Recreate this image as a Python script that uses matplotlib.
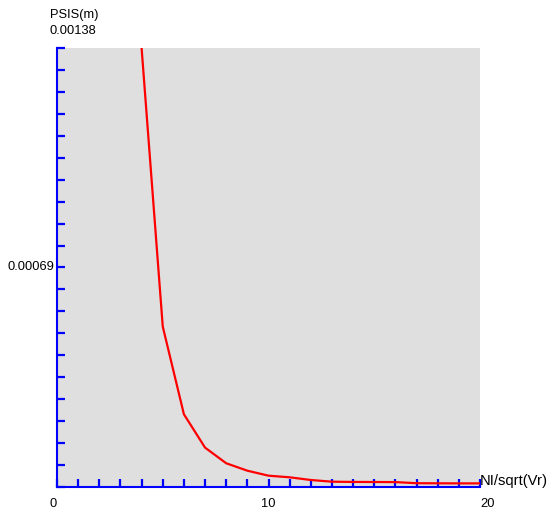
import numpy as np
import matplotlib.pyplot as plt
from matplotlib.ticker import MultipleLocator, NullFormatter

# PSIS versus NI/sqrt(Vr)
ni_sqrt_vr = [4, 5, 6, 7, 8, 9, 10, 11, 12, 13, 14, 15, 16, 17, 18, 19, 20]
psis = [0.00138, 0.000504, 0.000228, 0.000123, 0.0000738, 0.0000504, 0.0000347,
        0.0000296, 0.0000211, 0.0000158, 0.0000150, 0.0000148, 0.0000145,
        0.0000110, 0.0000107, 0.0000105, 0.0000105]

x_max = 20
y_max = 0.00138
x_labels = [0, 10, 20]

plt.rcParams['font.family'] = ['Liberation Sans', 'DejaVu Sans']

fig = plt.figure(figsize=(5.53, 5.12), dpi=100)
ax = fig.add_axes([0.1031, 0.0494, 0.7649, 0.8563])
ax.set_facecolor('#dfdfdf')

ax.plot(ni_sqrt_vr, psis, color='red', linewidth=1.6, clip_on=True)

ax.set_xlim(0, x_max)
ax.set_ylim(0, y_max)

for side in ['top', 'right']:
    ax.spines[side].set_visible(False)
for side in ['left', 'bottom']:
    ax.spines[side].set_color('blue')
    ax.spines[side].set_linewidth(1.5)

ax.xaxis.set_major_locator(MultipleLocator(1))
ax.yaxis.set_major_locator(MultipleLocator(y_max / 20))
ax.xaxis.set_major_formatter(NullFormatter())
ax.yaxis.set_major_formatter(NullFormatter())
ax.tick_params(axis='both', direction='in', length=6, width=1.6, color='blue')

fs = 9.3
# axis value labels
for v in x_labels:
    ha = 'right' if v == 0 else ('left' if v == x_max else 'center')
    ax.text(v, -0.04, str(v), transform=ax.get_xaxis_transform(),
            ha=ha, va='center', fontsize=fs)
ax.text(-0.007, y_max / 2, '0.00069', transform=ax.get_yaxis_transform(),
        ha='right', va='center', fontsize=fs)

# axis titles
ax.text(-0.017, 1.076, 'PSIS(m)', transform=ax.transAxes, ha='left', va='center', fontsize=fs)
ax.text(-0.017, 1.04, '0.00138', transform=ax.transAxes, ha='left', va='center', fontsize=fs)
ax.text(1.0, 0.013, 'NI/sqrt(Vr)', transform=ax.transAxes, ha='left', va='center', fontsize=10.6)

fig.savefig('out.png', dpi=100)
